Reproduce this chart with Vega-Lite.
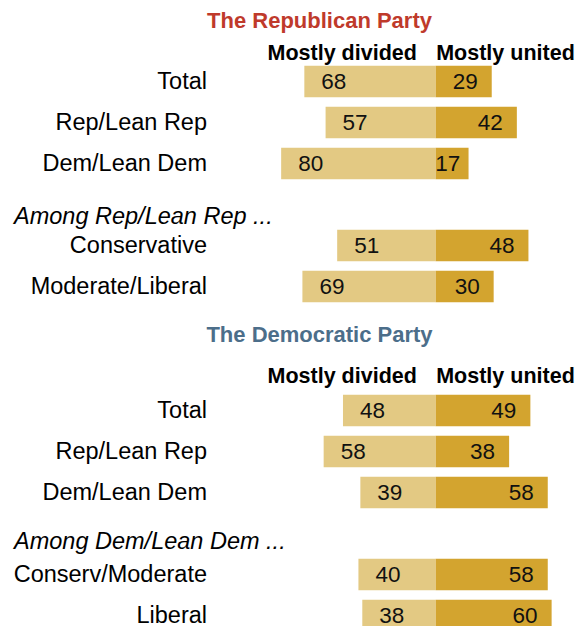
{
  "$schema": "https://vega.github.io/schema/vega-lite/v6.json",
  "padding": {"left": 12.5, "top": 9, "right": 0, "bottom": 0},
  "background": "white",
  "config": {
    "view": {"stroke": null},
    "font": "Liberation Sans",
    "concat": {"spacing": 17},
    "axis": {"grid": false, "domain": false, "ticks": false, "tickSize": 0}
  },
  "data": {
    "values": [
      {"panel": "R", "group": "Total", "response": "Mostly divided", "pct": 68},
      {"panel": "R", "group": "Total", "response": "Mostly united", "pct": 29},
      {"panel": "R", "group": "Rep/Lean Rep", "response": "Mostly divided", "pct": 57},
      {"panel": "R", "group": "Rep/Lean Rep", "response": "Mostly united", "pct": 42},
      {"panel": "R", "group": "Dem/Lean Dem", "response": "Mostly divided", "pct": 80},
      {"panel": "R", "group": "Dem/Lean Dem", "response": "Mostly united", "pct": 17},
      {"panel": "R", "group": "Conservative", "response": "Mostly divided", "pct": 51},
      {"panel": "R", "group": "Conservative", "response": "Mostly united", "pct": 48},
      {"panel": "R", "group": "Moderate/Liberal", "response": "Mostly divided", "pct": 69},
      {"panel": "R", "group": "Moderate/Liberal", "response": "Mostly united", "pct": 30},
      {"panel": "D", "group": "Total", "response": "Mostly divided", "pct": 48},
      {"panel": "D", "group": "Total", "response": "Mostly united", "pct": 49},
      {"panel": "D", "group": "Rep/Lean Rep", "response": "Mostly divided", "pct": 58},
      {"panel": "D", "group": "Rep/Lean Rep", "response": "Mostly united", "pct": 38},
      {"panel": "D", "group": "Dem/Lean Dem", "response": "Mostly divided", "pct": 39},
      {"panel": "D", "group": "Dem/Lean Dem", "response": "Mostly united", "pct": 58},
      {"panel": "D", "group": "Conserv/Moderate", "response": "Mostly divided", "pct": 40},
      {"panel": "D", "group": "Conserv/Moderate", "response": "Mostly united", "pct": 58},
      {"panel": "D", "group": "Liberal", "response": "Mostly divided", "pct": 38},
      {"panel": "D", "group": "Liberal", "response": "Mostly united", "pct": 60}
    ]
  },
  "transform": [
    {"calculate": "datum.response === 'Mostly divided' ? -datum.pct : datum.pct", "as": "pos"},
    {"calculate": "datum.response === 'Mostly divided' ? datum.pos : max(datum.pos, 20)", "as": "labelpos"}
  ],
  "vconcat": [
    {
      "title": {"text": "The Republican Party", "color": "#bf3a2b", "fontSize": 22, "fontWeight": "bold", "frame": "group", "anchor": "middle", "dx": -79.5, "offset": 10},
      "width": 369,
      "height": {"step": 41},
      "transform": [{"filter": "datum.panel === 'R'"}],
      "encoding": {
        "y": {
          "field": "group", "type": "nominal", "title": null,
          "scale": {"domain": ["Total", "Rep/Lean Rep", "Dem/Lean Dem", "Among Rep/Lean Rep ...", "Conservative", "Moderate/Liberal"], "paddingInner": 0.23, "paddingOuter": 0.115},
          "axis": {
            "labelFontSize": 23.5, "labelColor": "#000", "labelLimit": 400,
            "labelPadding": {"condition": {"test": "indexof(datum.value, 'Among') === 0", "value": 201}, "value": 8},
            "labelAlign": {"condition": {"test": "indexof(datum.value, 'Among') === 0", "value": "left"}, "value": "right"},
            "labelFontStyle": {"condition": {"test": "indexof(datum.value, 'Among') === 0", "value": "italic"}, "value": "normal"},
            "labelOffset": {"condition": {"test": "indexof(datum.value, 'Among') === 0", "value": 12}, "value": 0}
          }
        },
        "x": {
          "field": "pos", "type": "quantitative",
          "scale": {"domain": [-114.5, 76.5], "nice": false, "zero": false},
          "axis": {
            "orient": "top", "values": [-10, 0], "title": null,
            "labelExpr": "datum.value < 0 ? 'Mostly divided' : 'Mostly united'",
            "labelAlign": {"condition": {"test": "datum.value < 0", "value": "right"}, "value": "left"},
            "labelFontSize": 21.5, "labelFontWeight": "bold", "labelColor": "#000",
            "labelBaseline": "alphabetic", "labelPadding": 1.3,
            "labelFlush": false, "labelOverlap": false, "labelBound": false
          }
        }
      },
      "layer": [
        {
          "mark": {"type": "bar"},
          "encoding": {
            "x2": {"datum": 0},
            "color": {"field": "response", "type": "nominal", "scale": {"domain": ["Mostly divided", "Mostly united"], "range": ["#e3c983", "#d3a42f"]}, "legend": null}
          }
        },
        {
          "transform": [{"filter": "datum.response === 'Mostly divided'"}],
          "mark": {"type": "text", "align": "left", "dx": 17, "fontSize": 22.5, "color": "#111"},
          "encoding": {"x": {"field": "labelpos", "type": "quantitative"}, "text": {"field": "pct", "type": "quantitative"}}
        },
        {
          "transform": [{"filter": "datum.response === 'Mostly united'"}],
          "mark": {"type": "text", "align": "right", "dx": -14, "fontSize": 22.5, "color": "#111"},
          "encoding": {"x": {"field": "labelpos", "type": "quantitative"}, "text": {"field": "pct", "type": "quantitative"}}
        }
      ]
    },
    {
      "title": {"text": "The Democratic Party", "color": "#4c6e8a", "fontSize": 22, "fontWeight": "bold", "frame": "group", "anchor": "middle", "dx": -79.5, "offset": 18},
      "width": 369,
      "height": {"step": 41},
      "transform": [{"filter": "datum.panel === 'D'"}],
      "encoding": {
        "y": {
          "field": "group", "type": "nominal", "title": null,
          "scale": {"domain": ["Total", "Rep/Lean Rep", "Dem/Lean Dem", "Among Dem/Lean Dem ...", "Conserv/Moderate", "Liberal"], "paddingInner": 0.23, "paddingOuter": 0.115},
          "axis": {
            "labelFontSize": 23.5, "labelColor": "#000", "labelLimit": 400,
            "labelPadding": {"condition": {"test": "indexof(datum.value, 'Among') === 0", "value": 201}, "value": 8},
            "labelAlign": {"condition": {"test": "indexof(datum.value, 'Among') === 0", "value": "left"}, "value": "right"},
            "labelFontStyle": {"condition": {"test": "indexof(datum.value, 'Among') === 0", "value": "italic"}, "value": "normal"},
            "labelOffset": {"condition": {"test": "indexof(datum.value, 'Among') === 0", "value": 8}, "value": 0}
          }
        },
        "x": {
          "field": "pos", "type": "quantitative",
          "scale": {"domain": [-114.5, 76.5], "nice": false, "zero": false},
          "axis": {
            "orient": "top", "values": [-10, 0], "title": null,
            "labelExpr": "datum.value < 0 ? 'Mostly divided' : 'Mostly united'",
            "labelAlign": {"condition": {"test": "datum.value < 0", "value": "right"}, "value": "left"},
            "labelFontSize": 21.5, "labelFontWeight": "bold", "labelColor": "#000",
            "labelBaseline": "alphabetic", "labelPadding": 7.8,
            "labelFlush": false, "labelOverlap": false, "labelBound": false
          }
        }
      },
      "layer": [
        {
          "mark": {"type": "bar"},
          "encoding": {
            "x2": {"datum": 0},
            "color": {"field": "response", "type": "nominal", "scale": {"domain": ["Mostly divided", "Mostly united"], "range": ["#e3c983", "#d3a42f"]}, "legend": null}
          }
        },
        {
          "transform": [{"filter": "datum.response === 'Mostly divided'"}],
          "mark": {"type": "text", "align": "left", "dx": 17, "fontSize": 22.5, "color": "#111"},
          "encoding": {"x": {"field": "labelpos", "type": "quantitative"}, "text": {"field": "pct", "type": "quantitative"}}
        },
        {
          "transform": [{"filter": "datum.response === 'Mostly united'"}],
          "mark": {"type": "text", "align": "right", "dx": -14, "fontSize": 22.5, "color": "#111"},
          "encoding": {"x": {"field": "labelpos", "type": "quantitative"}, "text": {"field": "pct", "type": "quantitative"}}
        }
      ]
    }
  ]
}
